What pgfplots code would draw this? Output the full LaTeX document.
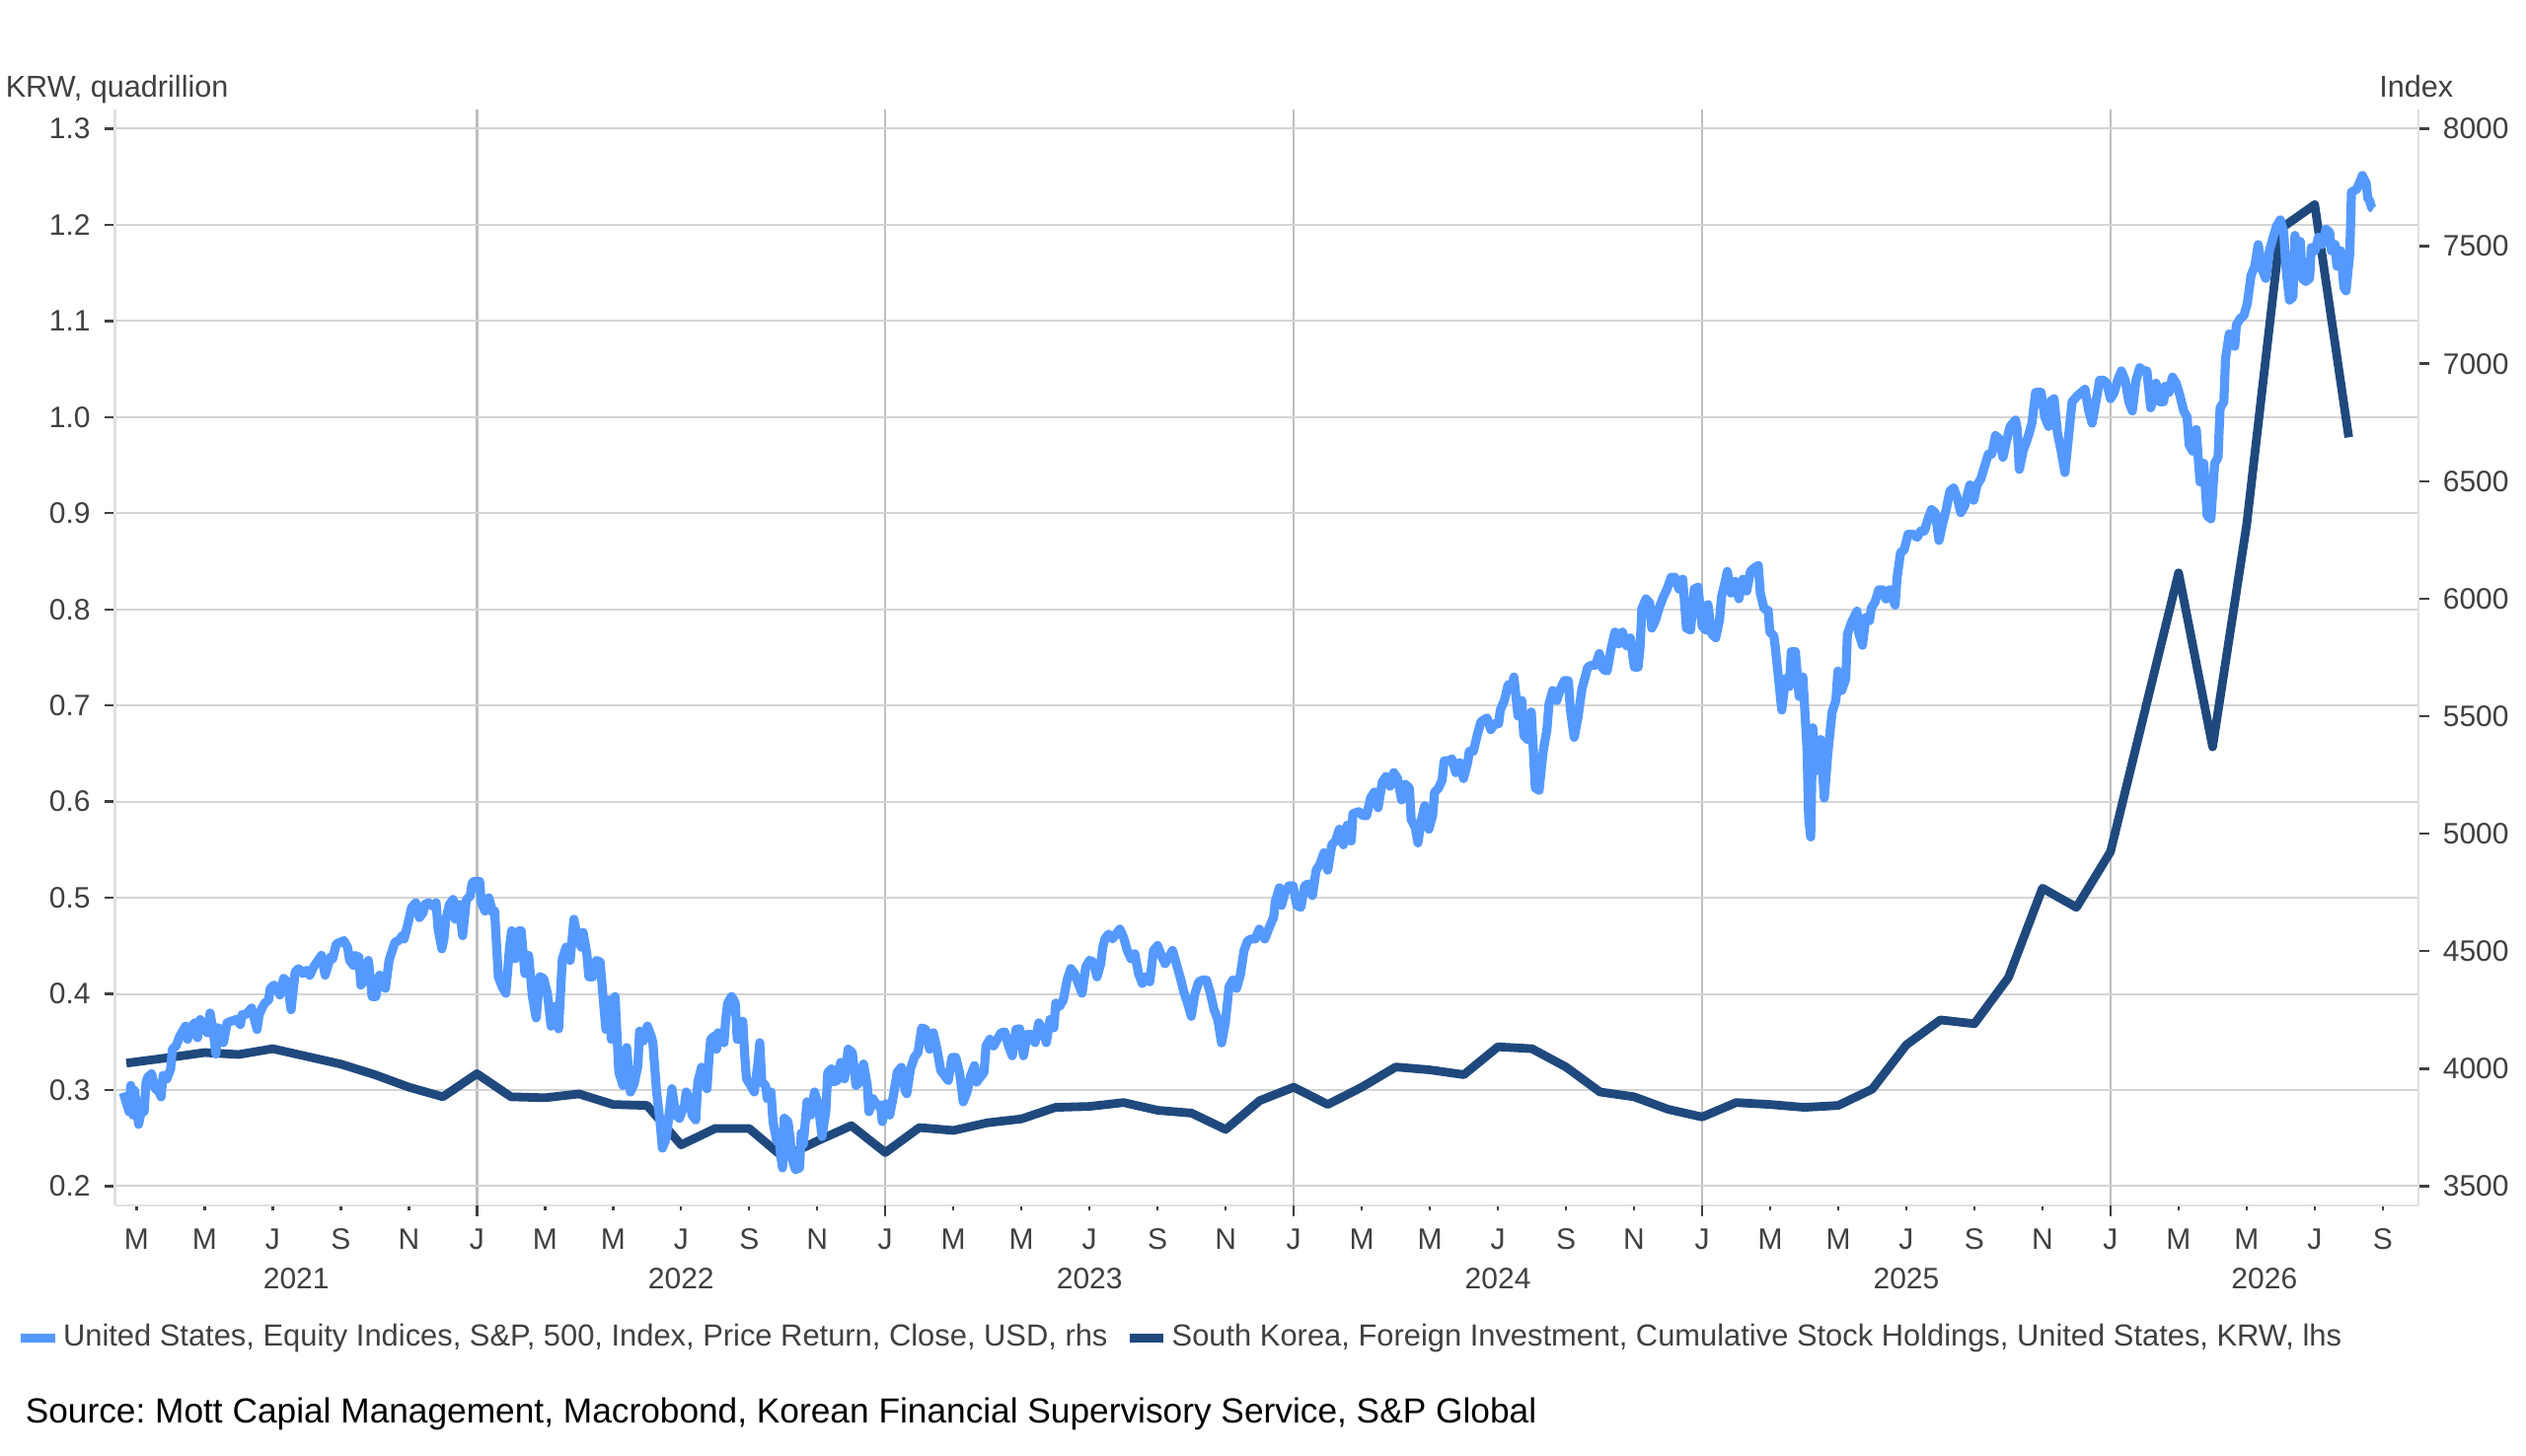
\documentclass[border=0pt]{standalone}
\usepackage{fontspec}
\setmainfont{Liberation Sans}
\usepackage{pgfplots}
\usepackage{pgfplotstable}
\pgfplotsset{compat=1.18}
\definecolor{sp}{HTML}{5599FF}
\definecolor{kr}{HTML}{1F497D}
\definecolor{txt}{HTML}{404040}
\definecolor{hgrid}{HTML}{D4D4D4}
\definecolor{vgrid}{HTML}{BEBEBE}
\definecolor{frame}{HTML}{E0E0E0}
\newcommand{\lbl}{\fontsize{7.5}{9}\selectfont}
\newcommand{\leg}{\fontsize{7.72}{9}\selectfont}
\frenchspacing

% S&P 500 index (rhs); x = months since 1 Jan 2021
\pgfplotstableread{
m idx
1.61 3898
1.78 3817
1.83 3929
1.89 3803
1.94 3908
2.06 3763
2.17 3845
2.22 3817
2.28 3943
2.33 3964
2.44 3978
2.55 3915
2.66 3901
2.72 3880
2.78 3971
2.89 3957
3.00 3999
3.05 4083
3.16 4097
3.27 4139
3.44 4181
3.50 4125
3.61 4181
3.72 4195
3.79 4132
3.87 4209
3.99 4167
4.08 4153
4.16 4237
4.27 4139
4.33 4062
4.38 4174
4.49 4167
4.55 4111
4.66 4195
4.77 4202
4.93 4209
5.05 4188
5.10 4230
5.21 4230
5.38 4258
5.54 4167
5.60 4230
5.71 4265
5.77 4279
5.88 4293
5.93 4342
6.04 4356
6.21 4314
6.32 4384
6.43 4370
6.54 4251
6.66 4412
6.76 4426
6.88 4405
6.99 4419
7.09 4398
7.20 4433
7.43 4482
7.54 4398
7.70 4475
7.76 4468
7.87 4531
7.98 4538
8.09 4545
8.20 4517
8.26 4461
8.37 4440
8.42 4482
8.53 4475
8.59 4356
8.70 4377
8.81 4461
8.87 4384
8.92 4307
9.03 4307
9.14 4398
9.20 4370
9.31 4342
9.42 4461
9.48 4489
9.59 4538
9.70 4545
9.81 4566
9.86 4552
9.97 4615
10.08 4685
10.20 4706
10.31 4643
10.42 4664
10.47 4699
10.58 4706
10.69 4692
10.80 4706
10.86 4594
10.97 4510
11.03 4552
11.08 4629
11.19 4699
11.30 4720
11.36 4636
11.47 4699
11.58 4566
11.69 4720
11.80 4734
11.86 4790
11.91 4797
12.08 4797
12.13 4706
12.24 4671
12.35 4727
12.47 4664
12.52 4671
12.63 4391
12.74 4349
12.85 4321
12.96 4517
13.02 4587
13.13 4468
13.24 4587
13.30 4587
13.41 4405
13.52 4482
13.63 4307
13.74 4216
13.85 4391
13.96 4384
14.07 4321
14.18 4181
14.29 4265
14.40 4170
14.51 4468
14.62 4517
14.74 4461
14.85 4636
14.96 4552
15.07 4517
15.12 4580
15.23 4489
15.29 4391
15.40 4391
15.51 4461
15.62 4454
15.73 4265
15.79 4167
15.90 4293
15.95 4125
16.06 4307
16.17 3985
16.29 3929
16.40 4090
16.51 3901
16.62 3936
16.73 4013
16.78 4160
16.89 4118
17.01 4181
17.12 4139
17.17 4111
17.28 3901
17.39 3760
17.45 3662
17.56 3704
17.61 3760
17.73 3915
17.84 3803
17.95 3789
18.10 3845
18.15 3901
18.26 3873
18.32 3803
18.43 3782
18.49 3943
18.60 4006
18.65 3992
18.76 3915
18.82 4048
18.87 4125
18.98 4139
19.04 4083
19.09 4153
19.20 4118
19.26 4111
19.31 4209
19.37 4279
19.48 4307
19.54 4293
19.59 4279
19.65 4125
19.70 4139
19.81 4202
19.87 4055
19.92 3957
20.04 3929
20.15 3901
20.26 4027
20.31 4111
20.37 3943
20.48 3929
20.53 3873
20.64 3901
20.70 3775
20.81 3691
20.87 3726
20.92 3635
20.98 3578
21.03 3789
21.14 3775
21.20 3705
21.25 3620
21.36 3571
21.48 3578
21.53 3726
21.59 3677
21.70 3859
21.81 3803
21.92 3901
22.03 3845
22.14 3712
22.25 3817
22.31 3985
22.42 3999
22.47 3943
22.58 3950
22.69 4027
22.80 3957
22.91 4083
23.03 4069
23.14 3929
23.25 3943
23.36 4020
23.47 3929
23.52 3817
23.63 3873
23.75 3845
23.86 3845
23.91 3775
24.02 3851
24.13 3803
24.24 3887
24.35 3985
24.47 4006
24.58 3908
24.63 3894
24.74 3999
24.85 4048
24.96 4069
25.07 4174
25.18 4167
25.30 4083
25.41 4153
25.52 4083
25.63 3992
25.74 3971
25.85 3950
25.96 4048
26.07 4048
26.18 3985
26.29 3859
26.40 3901
26.51 3971
26.62 4013
26.68 3943
26.79 3964
26.90 3985
26.96 4097
27.07 4125
27.18 4097
27.29 4125
27.40 4153
27.51 4156
27.62 4097
27.73 4055
27.84 4167
27.95 4170
28.06 4055
28.17 4146
28.29 4146
28.40 4111
28.51 4195
28.62 4167
28.73 4111
28.84 4209
28.95 4174
29.01 4279
29.12 4265
29.23 4293
29.34 4377
29.45 4426
29.56 4405
29.67 4363
29.78 4321
29.89 4433
30.00 4461
30.11 4454
30.22 4391
30.33 4447
30.39 4517
30.45 4552
30.56 4573
30.67 4552
30.78 4573
30.89 4594
31.00 4559
31.11 4503
31.22 4468
31.33 4489
31.44 4405
31.55 4363
31.66 4391
31.77 4370
31.88 4503
32.00 4524
32.11 4482
32.22 4447
32.33 4475
32.44 4503
32.55 4447
32.66 4391
32.77 4328
32.88 4279
32.99 4223
33.10 4321
33.21 4370
33.32 4377
33.44 4377
33.55 4321
33.66 4251
33.77 4209
33.88 4110
33.99 4195
34.10 4349
34.21 4377
34.32 4342
34.43 4398
34.54 4503
34.65 4545
34.76 4552
34.87 4552
34.99 4594
35.15 4552
35.29 4604
35.41 4645
35.46 4712
35.58 4770
35.64 4695
35.75 4753
35.86 4778
35.98 4778
36.09 4695
36.21 4687
36.32 4778
36.43 4787
36.55 4737
36.60 4787
36.66 4845
36.77 4870
36.89 4919
37.00 4845
37.12 4953
37.23 4969
37.34 5019
37.46 4953
37.57 5036
37.69 4969
37.74 5085
37.91 5094
38.03 5077
38.14 5077
38.26 5152
38.37 5177
38.48 5111
38.60 5219
38.71 5243
38.83 5202
38.94 5260
39.05 5235
39.17 5144
39.28 5210
39.40 5194
39.45 5061
39.57 5027
39.65 4961
39.74 5052
39.85 5119
39.97 5019
40.08 5077
40.14 5177
40.25 5193
40.36 5227
40.42 5310
40.54 5310
40.65 5318
40.76 5260
40.88 5302
40.99 5235
41.11 5302
41.16 5351
41.28 5351
41.39 5418
41.50 5476
41.68 5493
41.79 5443
41.91 5468
42.02 5468
42.07 5526
42.19 5567
42.30 5634
42.41 5626
42.47 5667
42.59 5501
42.70 5567
42.76 5418
42.87 5401
42.98 5518
43.10 5194
43.21 5185
43.33 5351
43.44 5443
43.50 5551
43.61 5609
43.73 5567
43.84 5617
43.95 5651
44.07 5651
44.13 5526
44.24 5410
44.35 5493
44.47 5617
44.64 5709
44.75 5717
44.87 5717
44.98 5767
45.09 5700
45.21 5692
45.32 5784
45.44 5858
45.55 5808
45.66 5858
45.78 5800
45.89 5833
46.01 5709
46.12 5709
46.18 5800
46.23 5958
46.35 5999
46.46 5983
46.52 5875
46.63 5908
46.75 5966
46.86 6008
46.97 6041
47.09 6091
47.20 6091
47.32 6041
47.43 6083
47.54 5875
47.66 5867
47.77 6041
47.88 6049
48.00 5883
48.11 5867
48.17 5975
48.28 5850
48.40 5834
48.51 5908
48.57 6008
48.68 6074
48.74 6116
48.85 6024
48.97 6074
49.08 6000
49.20 6083
49.31 6033
49.42 6116
49.54 6132
49.65 6141
49.71 6024
49.82 5958
49.94 5950
49.99 5858
50.11 5842
50.17 5767
50.34 5526
50.45 5659
50.56 5626
50.62 5775
50.74 5775
50.85 5584
50.96 5667
51.08 5368
51.13 5069
51.19 4986
51.25 5451
51.36 5268
51.48 5401
51.59 5152
51.70 5351
51.82 5518
51.93 5567
51.99 5692
52.10 5609
52.22 5659
52.27 5850
52.39 5900
52.55 5947
52.60 5855
52.71 5802
52.81 5920
52.92 5907
52.97 5960
53.08 5986
53.19 6038
53.30 6038
53.40 5999
53.51 6038
53.67 5973
53.73 6091
53.83 6196
53.94 6209
54.05 6274
54.21 6274
54.32 6261
54.42 6288
54.53 6288
54.64 6340
54.74 6379
54.85 6366
54.96 6248
55.06 6314
55.17 6379
55.28 6458
55.39 6471
55.49 6432
55.60 6366
55.71 6393
55.82 6458
55.87 6484
55.98 6419
56.08 6484
56.19 6510
56.30 6563
56.41 6615
56.51 6615
56.62 6694
56.73 6681
56.84 6602
56.94 6668
57.05 6733
57.21 6760
57.26 6720
57.32 6550
57.43 6628
57.59 6694
57.69 6747
57.80 6878
57.96 6878
58.07 6773
58.18 6733
58.23 6838
58.34 6851
58.44 6707
58.55 6628
58.66 6537
58.77 6694
58.87 6838
59.03 6864
59.14 6878
59.25 6891
59.36 6799
59.46 6747
59.57 6838
59.68 6930
59.79 6930
59.89 6917
60.00 6851
60.11 6878
60.21 6930
60.32 6969
60.43 6930
60.54 6838
60.64 6799
60.75 6930
60.86 6983
60.97 6969
61.07 6969
61.18 6812
61.23 6838
61.34 6917
61.45 6838
61.56 6838
61.61 6904
61.72 6878
61.82 6943
61.93 6917
62.04 6864
62.15 6799
62.25 6773
62.31 6655
62.41 6628
62.52 6720
62.57 6615
62.63 6497
62.74 6576
62.84 6353
62.95 6340
63.06 6576
63.16 6602
63.22 6812
63.33 6838
63.38 7022
63.49 7127
63.65 7074
63.70 7166
63.81 7192
63.92 7205
64.02 7258
64.13 7376
64.24 7415
64.34 7507
64.45 7402
64.56 7363
64.67 7481
64.77 7533
64.88 7586
64.99 7612
65.09 7559
65.15 7415
65.26 7271
65.36 7284
65.42 7546
65.52 7428
65.58 7520
65.63 7363
65.74 7350
65.85 7363
65.90 7494
66.01 7481
66.11 7538
66.22 7507
66.33 7572
66.44 7559
66.49 7481
66.60 7507
66.65 7415
66.76 7481
66.86 7323
66.92 7310
67.03 7468
67.08 7730
67.24 7743
67.35 7782
67.40 7801
67.51 7769
67.56 7704
67.62 7691
67.67 7664
67.72 7659
}\sptable

% Korea cumulative US stock holdings, KRW quadrillion (lhs)
\pgfplotstableread{
m krw
1.70 0.328
3 0.334
4 0.339
5 0.337
6 0.343
7 0.335
8 0.327
9 0.316
10 0.303
11 0.293
12 0.317
13 0.293
14 0.292
15 0.296
16 0.285
17 0.284
18 0.243
19 0.260
20 0.260
21 0.230
22 0.247
23 0.263
24 0.235
25 0.261
26 0.258
27 0.266
28 0.270
29 0.282
30 0.283
31 0.287
32 0.279
33 0.276
34 0.259
35 0.289
36 0.303
37 0.285
38 0.303
39 0.324
40 0.321
41 0.316
42 0.345
43 0.343
44 0.324
45 0.298
46 0.293
47 0.280
48 0.272
49 0.287
50 0.285
51 0.282
52 0.284
53 0.301
54 0.347
55 0.373
56 0.369
57 0.417
58 0.510
59 0.490
60 0.548
62 0.838
63 0.657
64 0.888
65 1.196
66 1.221
67 0.979
}\krtable

\begin{document}
\begin{tikzpicture}
\useasboundingbox (0,0) rectangle (640pt,369pt);
\pgfplotsset{
  common/.style={
    at={(29.175pt,63.5pt)}, anchor=south west,
    scale only axis, width=583.5pt, height=277.75pt,
    xmin=1.37, xmax=69.04,
    tick align=outside,
    tick style={draw=txt, line width=0.6pt},
    axis line style={draw=frame, line width=0.6pt},
    ticklabel style={font=\lbl, text=txt},
    /pgf/number format/assume math mode=true,
  }
}
% x axis, month ticks and January grid lines
\begin{axis}[common,
  ymin=0, ymax=1,
  axis x line*=bottom, axis y line=none,
  major tick length=1.25pt,
  xtick={2,4,...,68},
  xticklabels={M,M,J,S,N,J,M,M,J,S,N,J,M,M,J,S,N,J,M,M,J,S,N,J,M,M,J,S,N,J,M,M,J,S},
  xticklabel style={anchor=base, yshift=-10pt},
  extra x ticks={12,24,36,48,60},
  extra x tick labels={},
  extra x tick style={major tick length=2.75pt, grid=major, major grid style={draw=vgrid, line width=0.6pt}},
  clip=false,
]
\node[anchor=base, font=\lbl, text=txt] at (axis cs:6.69,0) [yshift=-21.25pt] {2021};
\node[anchor=base, font=\lbl, text=txt] at (axis cs:18,0) [yshift=-21.25pt] {2022};
\node[anchor=base, font=\lbl, text=txt] at (axis cs:30,0) [yshift=-21.25pt] {2023};
\node[anchor=base, font=\lbl, text=txt] at (axis cs:42,0) [yshift=-21.25pt] {2024};
\node[anchor=base, font=\lbl, text=txt] at (axis cs:54,0) [yshift=-21.25pt] {2025};
\node[anchor=base, font=\lbl, text=txt] at (axis cs:64.52,0) [yshift=-21.25pt] {2026};
\end{axis}
% left axis: KRW holdings
\begin{axis}[common,
  ymin=0.18, ymax=1.32,
  axis x line=none, axis y line*=left,
  major tick length=2.75pt,
  ytick={0.2,0.3,0.4,0.5,0.6,0.7,0.8,0.9,1.0,1.1,1.2,1.3},
  yticklabel style={/pgf/number format/fixed, /pgf/number format/fixed zerofill, /pgf/number format/precision=1},
  ymajorgrids, major grid style={draw=hgrid, line width=0.5pt},
]
\addplot[kr, line width=2.2pt, line join=round] table[x=m, y=krw] {\krtable};
\end{axis}
% right axis: S&P 500
\begin{axis}[common,
  ymin=3418.18, ymax=8081.82,
  axis x line=none, axis y line*=right,
  major tick length=2.75pt,
  ytick={3500,4000,...,8000},
  yticklabel style={/pgf/number format/1000 sep={}},
  legend style={at={(-0.0414,-0.121)}, anchor=west, draw=none, fill=none,
    font=\leg, text=txt, inner sep=0pt, legend columns=2,
    nodes={inner sep=0pt},
    /tikz/every odd column/.append style={column sep=2.1pt},
    /tikz/every even column/.append style={column sep=5.5pt}},
  legend cell align=left,
  legend image code/.code={\fill[#1, draw=none] (0pt,-1.15pt) rectangle (8.7pt,1.15pt);},
]
\addplot[color=sp, line width=2.3pt, line join=round] table[x=m, y=idx] {\sptable};
\addlegendentry{United States, Equity Indices, S\&P, 500, Index, Price Return, Close, USD, rhs}
\addlegendimage{color=kr, line width=2.2pt}
\addlegendentry{South Korea, Foreign Investment, Cumulative Stock Holdings, United States, KRW, lhs}
\end{axis}
\node[anchor=base west, inner sep=0pt, font=\fontsize{7.65}{9}\selectfont, text=txt] at (1.25pt,344.25pt) {KRW, quadrillion};
\node[anchor=base east, inner sep=0pt, font=\fontsize{7.65}{9}\selectfont, text=txt] at (621.75pt,344.25pt) {Index};
\node[anchor=base west, inner sep=0pt, font=\fontsize{8.82}{10}\selectfont, text=black] at (6.25pt,8.25pt) {Source: Mott Capial Management, Macrobond, Korean Financial Supervisory Service, S\&P Global};
\end{tikzpicture}
\end{document}
